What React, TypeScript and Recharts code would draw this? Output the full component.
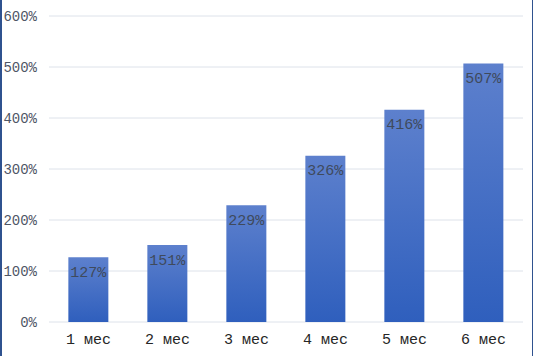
import React from 'react';
import { BarChart, Bar, XAxis, YAxis, CartesianGrid, LabelList } from 'recharts';

const categories = ['1 мес', '2 мес', '3 мес', '4 мес', '5 мес', '6 мес'];
const values = [127, 151, 229, 326, 416, 507];
const yTicks = [0, 100, 200, 300, 400, 500, 600];

const data = categories.map((c, i) => ({ name: c, value: values[i] }));

export default function App() {
  return (
    <div style={{ position: 'relative', width: 533, height: 356, background: '#fff' }}>
      <style>{'body{margin:0}'}</style>
      <BarChart
        width={533}
        height={356}
        data={data}
        margin={{ top: 16, right: 10, bottom: 0, left: 0 }}
        barCategoryGap="24.5%"
      >
        <defs>
          <linearGradient id="barGrad" x1="0" y1="0" x2="0" y2="1">
            <stop offset="0%" stopColor="#5d80cd" />
            <stop offset="100%" stopColor="#2f5fbd" />
          </linearGradient>
        </defs>
        <CartesianGrid vertical={false} stroke="#dde2ea" strokeWidth={1} />
        <XAxis
          dataKey="name"
          axisLine={false}
          tickLine={false}
          tickSize={0}
          tickMargin={11}
          height={34}
          tick={{ fill: '#262626', fontSize: 15, fontFamily: 'Liberation Mono' }}
        />
        <YAxis
          width={49}
          domain={[0, 600]}
          ticks={yTicks}
          interval={0}
          axisLine={false}
          tickLine={false}
          tickSize={0}
          tickMargin={12}
          tickFormatter={(v: number) => `${v}%`}
          tick={{ fill: '#4f5666', fontSize: 14, fontFamily: 'Liberation Mono' }}
        />
        <Bar dataKey="value" fill="url(#barGrad)" isAnimationActive={false}>
          <LabelList
            dataKey="value"
            position="insideTop"
            offset={9}
            formatter={(v: number) => `${v}%`}
            style={{ fill: '#3f4a5c', fontSize: 15, fontFamily: 'Liberation Mono' }}
          />
        </Bar>
      </BarChart>
      <div style={{ position: 'absolute', left: 0, top: 0, width: 1.5, height: 356, background: '#2f528f' }} />
      <div style={{ position: 'absolute', left: 531.5, top: 0, width: 1.5, height: 356, background: '#2f528f' }} />
    </div>
  );
}
